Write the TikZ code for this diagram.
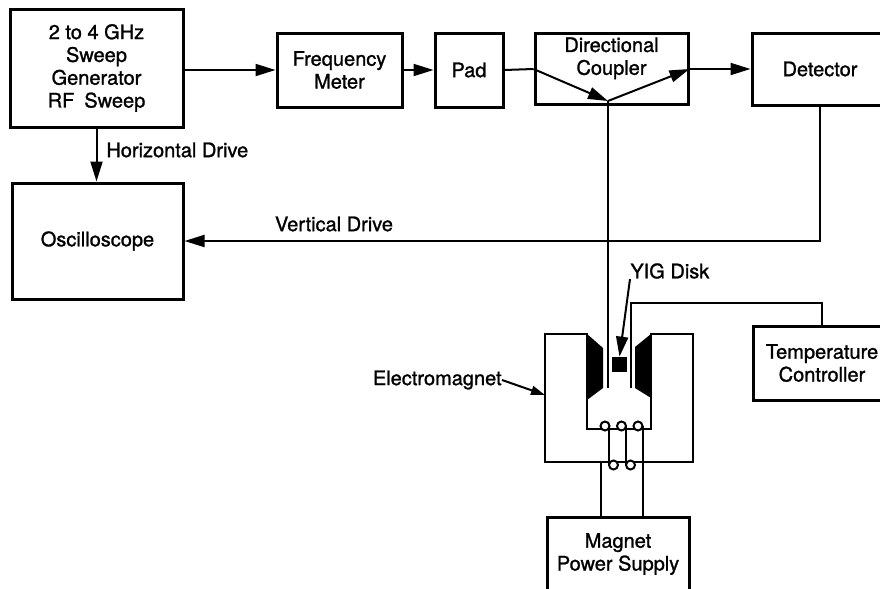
\documentclass[tikz,border=0pt]{standalone}
\usepackage{fontspec}
\setmainfont{TeX Gyre Heros}[FakeBold=1.2]
\usepackage{tikz}
\usetikzlibrary{shapes,arrows,arrows.meta}
\usetikzlibrary{shapes.geometric,positioning}

\begin{document}
\begin{tikzpicture}[x=0.5pt,y=-0.5pt,
    blk/.style={draw, line width=1.5pt, align=center, inner sep=0pt,
        font=\fontsize{10}{11.4}\selectfont},
    lbl/.style={inner sep=0pt, font=\fontsize{10}{11.4}\selectfont},
    flow/.style={line width=1pt, -{Triangle[length=10pt,width=6pt]}},
    wire/.style={line width=1pt}]
    \useasboundingbox (0,0) rectangle (880,589);
    \clip (0,0) rectangle (880,589);
    % blocks
    \node (gen) [blk, minimum width=86.5pt, minimum height=59pt] at (96.5,68)
        {2 to 4 GHz\\Sweep\\Generator\\RF\enspace Sweep};
    \node (osc) [blk, minimum width=85.5pt, minimum height=58pt] at (97.5,241) {Oscilloscope};
    \node (freq) [blk, minimum width=62.5pt, minimum height=37pt] at (339.5,70) {Frequency\\Meter};
    \node (pad) [blk, minimum width=34pt, minimum height=37pt] at (469,70) {Pad};
    \node (coup) [blk, minimum width=76.5pt, minimum height=35.5pt] at (611.5,69) {};
    \node (couptxt) [lbl, align=center, anchor=north] at (611.5,37) {Directional\\Coupler};
    \node (det) [blk, minimum width=68pt, minimum height=36pt] at (820,69) {Detector};
    \node (tc) [blk, minimum width=69pt, minimum height=37pt] at (822,363) {Temperature\\Controller};
    \node (ps) [blk, minimum width=71pt, minimum height=37pt] at (618,554) {Magnet\\Power Supply};
    % labels
    \node (hd) [lbl, anchor=west] at (106,150) {Horizontal Drive};
    \node (vd) [lbl] at (334,224) {Vertical Drive};
    \node (yig) [lbl, anchor=west] at (630,271) {YIG Disk};
    \node (em) [lbl, anchor=east] at (502,380) {Electromagnet};
    % electromagnet
    \draw[wire] (545,334) -- (587,334) -- (587,429) -- (651,429) -- (651,334)
        -- (693,334) -- (693,462) -- (545,462) -- cycle;
    \fill (587,334) -- (603,348) -- (603,388) -- (587,400) -- cycle;
    \fill (651,334) -- (635,347) -- (635,388) -- (651,398) -- cycle;
    \node (disk) [fill, minimum size=7.5pt, inner sep=0pt] at (619.5,364.5) {};
    \coordinate (emside) at (545,395);
    \coordinate (cc) at (608,101);
    \coordinate (probe) at (608,388);
    \coordinate (sense) at (631,388);
    \coordinate (senseup) at (631,303);
    % coil
    \foreach \i in {0,1,2}
        \draw[wire, fill=white] (605+16.5*\i,426) circle (4.5);
    \foreach \i in {0,1}
        \draw[wire, fill=white] (613.5+17*\i,465) circle (4.5);
    \foreach \x in {609,626}
        \draw[wire] (\x,426) -- (\x,465);
    \draw[wire] (643,426) -- (643,517);
    \draw[wire] (601,462) -- (601,517);
    % connectors
    \draw[flow] (freq.west -| gen.east) -- (freq.west);
    \draw[flow] (freq) -- (pad);
    \draw[wire] (pad.east) -- (coup.west);
    \draw[flow] (coup.west) -- (cc);
    \draw[flow] (cc) -- (coup.east);
    \draw[flow] (coup.east) -- (det.west);
    \draw[wire] (cc) -- (probe);
    \draw[flow] (gen.south) -- (gen.south |- osc.north);
    \draw[flow] (det.south) |- (osc.east);
    \draw[wire] (sense) -- (senseup) -| (tc.north);
    \draw[flow] (yig.south west) -- (disk.north);
    \draw[line width=1pt, -{Triangle[length=7pt,width=4.5pt]}] (em.east) -- (emside);
\end{tikzpicture}
\end{document}
